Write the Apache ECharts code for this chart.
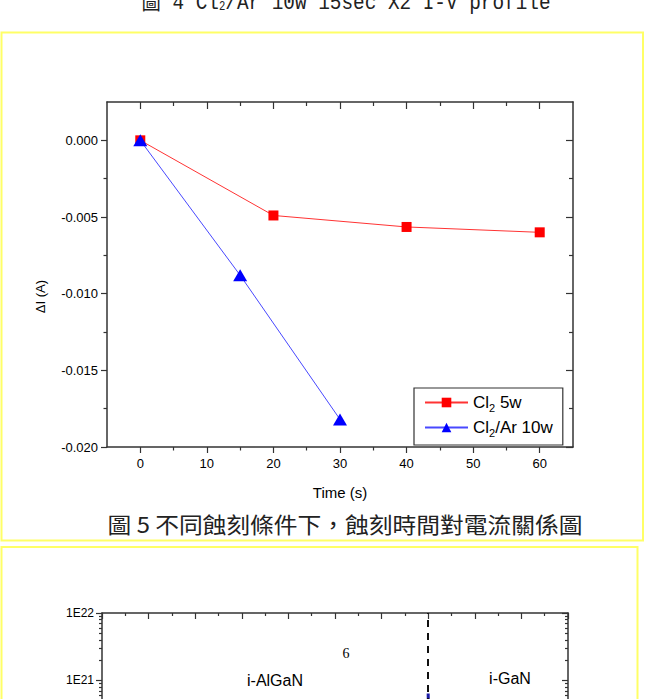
<!DOCTYPE html>
<html>
<head>
<meta charset="utf-8">
<script src="https://cdn.jsdelivr.net/npm/echarts@6/dist/echarts.min.js"></script>
<style>
html, body { margin: 0; padding: 0; background: #fff; overflow: hidden; }
#main { width: 646px; height: 699px; }
</style>
</head>
<body>
<div id="main"></div>
<script>
// fig 5 data: delta I vs etch time
var timeCl2 = [0, 20, 40, 60];
var dICl2 = [0, -0.0049, -0.00565, -0.0060];
var timeCl2Ar = [0, 15, 30];
var dICl2Ar = [0, -0.0088, -0.0182];
var seriesNames = ['Cl2 5w', 'Cl2/Ar 10w'];

var xTicks = [0, 10, 20, 30, 40, 50, 60];
var xMinor = [5, 15, 25, 35, 45, 55];
var yTicks = [0, -0.005, -0.010, -0.015, -0.020];
var yMinor = [-0.0025, -0.0075, -0.0125, -0.0175];

// fig 6 (partly visible): SIMS-like profile
var depthSpike = [14, 14.03];
var concSpike = [6.4e20, 1e19];
var interfaceDepth = 14;
var logDecades = [16, 17, 18, 19, 20, 21, 22];

var logMinor = [];
logDecades.slice(0, -1).forEach(function (d) {
    for (var k = 2; k <= 9; k++) logMinor.push(d + Math.log10(k));
});

var FONT = 'Liberation Sans, Arial, sans-serif';
var AX = '#333';

var chart = echarts.init(document.getElementById('main'), null, { renderer: 'svg' });

function line(show) {
    return { show: show, onZero: false, lineStyle: { color: AX, width: 1.5 } };
}
function tick(vals, len, inside) {
    var t = { show: true, length: len, inside: inside, lineStyle: { color: AX, width: 1.2 } };
    if (vals) t.customValues = vals;
    return t;
}
function grid(left, top, w, h) {
    return { left: left, top: top, width: w, height: h, outerBoundsMode: 'none', containLabel: false };
}

var option = {
    animation: false,
    backgroundColor: '#fff',
    grid: [
        grid(107, 102, 466, 345),
        grid(107, 102, 466, 345),
        grid(102, 613, 466, 404),
        grid(102, 613, 466, 404)
    ],
    xAxis: [
        {
            gridIndex: 0, type: 'value', position: 'bottom', min: -5, max: 65,
            axisLine: line(true), axisTick: tick(xTicks, 6, false),
            axisLabel: { customValues: xTicks, margin: 10, color: '#000', fontSize: 13, fontFamily: FONT },
            splitLine: { show: false },
            name: 'Time (s)', nameLocation: 'middle', nameGap: 38,
            nameTextStyle: { color: '#000', fontSize: 15, fontFamily: FONT }
        },
        {
            gridIndex: 0, type: 'value', position: 'top', min: -5, max: 65,
            axisLine: line(true), axisTick: tick(xTicks, 7, true),
            axisLabel: { show: false }, splitLine: { show: false }
        },
        {
            gridIndex: 1, type: 'value', position: 'bottom', min: -5, max: 65,
            axisLine: line(false), axisTick: tick(xMinor, 3.5, false),
            axisLabel: { show: false }, splitLine: { show: false }
        },
        {
            gridIndex: 1, type: 'value', position: 'top', min: -5, max: 65,
            axisLine: line(false), axisTick: tick(xMinor, 4, true),
            axisLabel: { show: false }, splitLine: { show: false }
        },
        {
            gridIndex: 2, type: 'value', position: 'top', min: 0, max: 20, interval: 2,
            axisLine: line(true), axisTick: tick(null, 6, true),
            minorTick: { show: true, splitNumber: 2, length: 3, lineStyle: { color: AX, width: 1.2 } },
            axisLabel: { show: false }, splitLine: { show: false }
        },
        {
            gridIndex: 2, type: 'value', position: 'bottom', min: 0, max: 20, interval: 2,
            axisLine: line(true), axisTick: tick(null, 6, false),
            axisLabel: { show: false }, splitLine: { show: false }
        },
        {
            gridIndex: 3, type: 'value', min: 0, max: 20, show: false
        }
    ],
    yAxis: [
        {
            gridIndex: 0, type: 'value', position: 'left', min: -0.020, max: 0.0025,
            axisLine: line(true), axisTick: tick(yTicks, 6, false),
            axisLabel: {
                customValues: yTicks, margin: 9, color: '#000', fontSize: 13, fontFamily: FONT,
                formatter: function (v) { return v.toFixed(3); }
            },
            splitLine: { show: false },
            name: '\u0394I (A)', nameLocation: 'middle', nameGap: 60,
            nameTextStyle: { color: '#000', fontSize: 13, fontFamily: FONT, padding: [0, 44, 0, 0] }
        },
        {
            gridIndex: 0, type: 'value', position: 'right', min: -0.020, max: 0.0025,
            axisLine: line(true), axisTick: tick(yTicks, 7, true),
            axisLabel: { show: false }, splitLine: { show: false }
        },
        {
            gridIndex: 1, type: 'value', position: 'left', min: -0.020, max: 0.0025,
            axisLine: line(false), axisTick: tick(yMinor, 3.5, false),
            axisLabel: { show: false }, splitLine: { show: false }
        },
        {
            gridIndex: 1, type: 'value', position: 'right', min: -0.020, max: 0.0025,
            axisLine: line(false), axisTick: tick(yMinor, 4, true),
            axisLabel: { show: false }, splitLine: { show: false }
        },
        {
            gridIndex: 2, type: 'log', logBase: 10, position: 'left', min: 1e16, max: 1e22,
            axisLine: line(true), axisTick: tick(null, 6, false),
            axisLabel: {
                margin: 8, color: '#000', fontSize: 12, fontFamily: FONT,
                formatter: function (v) { return '1E' + Math.round(Math.log10(v)); }
            },
            splitLine: { show: false }
        },
        {
            gridIndex: 2, type: 'log', logBase: 10, position: 'right', min: 1e16, max: 1e22,
            axisLine: line(true), axisTick: tick(null, 6, true),
            axisLabel: { show: false }, splitLine: { show: false }
        },
        {
            gridIndex: 3, type: 'value', position: 'left', min: 16, max: 22,
            axisLine: line(false), axisTick: tick(logMinor, 3, false),
            axisLabel: { show: false }, splitLine: { show: false }
        },
        {
            gridIndex: 3, type: 'value', position: 'right', min: 16, max: 22,
            axisLine: line(false), axisTick: tick(logMinor, 3, true),
            axisLabel: { show: false }, splitLine: { show: false }
        }
    ],
    legend: {
        data: seriesNames,
        orient: 'vertical',
        left: 414, top: 388,
        padding: [6, 10, 7, 10],
        itemGap: 6,
        itemWidth: 43, itemHeight: 12,
        borderColor: '#333', borderWidth: 1.2,
        textStyle: {
            color: '#000', fontSize: 17, fontFamily: FONT,
            rich: {
                n: { fontSize: 17, fontFamily: FONT, color: '#000' },
                s: { fontSize: 11, fontFamily: FONT, color: '#000', padding: [10, 0, 0, 0] }
            }
        },
        formatter: function (name) {
            return name === seriesNames[0] ? '{n|Cl}{s|2}{n| 5w}' : '{n|Cl}{s|2}{n|/Ar 10w}';
        }
    },
    series: [
        {
            name: seriesNames[0], type: 'line', xAxisIndex: 0, yAxisIndex: 0,
            data: timeCl2.map(function (t, i) { return [t, dICl2[i]]; }),
            symbol: 'rect', symbolSize: 10,
            itemStyle: { color: '#ff0000' },
            lineStyle: { color: '#ff3333', width: 1 }
        },
        {
            name: seriesNames[1], type: 'line', xAxisIndex: 0, yAxisIndex: 0,
            data: timeCl2Ar.map(function (t, i) { return [t, dICl2Ar[i]]; }),
            symbol: 'triangle', symbolSize: [14, 12],
            itemStyle: { color: '#0000ff' },
            lineStyle: { color: '#4848ff', width: 1 }
        },
        {
            type: 'line', xAxisIndex: 4, yAxisIndex: 4,
            data: depthSpike.map(function (d, i) { return [d, concSpike[i]]; }),
            symbol: 'none',
            lineStyle: { color: '#1a1aa6', width: 3 },
            markLine: {
                silent: true, symbol: 'none', label: { show: false },
                lineStyle: { color: '#111', width: 2, type: [7, 6] },
                data: [{ xAxis: interfaceDepth }]
            }
        }
    ],
    graphic: [
        {
            type: 'rect', silent: true,
            shape: { x: 1.5, y: 32.5, width: 641.5, height: 508 },
            style: { fill: 'none', stroke: '#ffff66', lineWidth: 2 }
        },
        {
            type: 'rect', silent: true,
            shape: { x: 1.5, y: 547, width: 636, height: 200 },
            style: { fill: 'none', stroke: '#ffff66', lineWidth: 2 }
        },
        {
            type: 'text', x: 346, y: 14, scaleX: 0.88, originX: 0, silent: true,
            style: {
                text: '{a|\u5716 4 Cl}{b|2}{a|/Ar 10w 15sec X2 I-V profile}',
                align: 'center', verticalAlign: 'bottom',
                rich: {
                    a: { fontSize: 22, fontFamily: 'Liberation Mono, Noto Sans CJK TC, monospace', fill: '#222' },
                    b: { fontSize: 12, fontFamily: 'Liberation Mono, monospace', fill: '#222', padding: [8, 0, 0, 0] }
                }
            }
        },
        {
            type: 'text', x: 345, y: 523, scaleX: 1.08, originX: 0, silent: true,
            style: {
                text: '\u5716 5 \u4e0d\u540c\u8755\u523b\u689d\u4ef6\u4e0b\uff0c\u8755\u523b\u6642\u9593\u5c0d\u96fb\u6d41\u95dc\u4fc2\u5716',
                align: 'center', verticalAlign: 'middle',
                fontSize: 22, fontFamily: 'Noto Sans CJK TC', fill: '#222'
            }
        },
        {
            type: 'text', x: 275, y: 680, silent: true,
            style: { text: 'i-AlGaN', align: 'center', verticalAlign: 'middle', fontSize: 16, fontFamily: FONT, fill: '#000' }
        },
        {
            type: 'text', x: 510, y: 678, silent: true,
            style: { text: 'i-GaN', align: 'center', verticalAlign: 'middle', fontSize: 16, fontFamily: FONT, fill: '#000' }
        },
        {
            type: 'text', x: 346, y: 653, silent: true,
            style: { text: '6', align: 'center', verticalAlign: 'middle', fontSize: 14, fontFamily: 'Liberation Serif, serif', fill: '#000' }
        }
    ]
};

if (option && typeof option === "object") {
    chart.setOption(option, true);
}
</script>
</body>
</html>
